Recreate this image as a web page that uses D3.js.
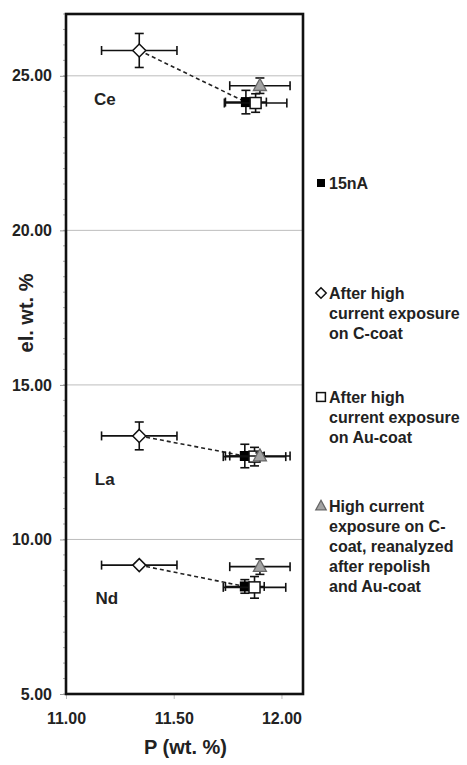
<!DOCTYPE html>
<html>
<head>
<meta charset="utf-8">
<script src="https://cdn.jsdelivr.net/npm/d3@7"></script>
<style>
  html, body { margin: 0; padding: 0; background: #fff; }
  svg { display: block; font-family: "Liberation Sans", Arial, sans-serif; font-weight: bold; }
</style>
</head>
<body>
<svg id="chart" width="467" height="765"></svg>
<script>
// Elements plotted (one group of points per element)
const elementLabels = ["Ce", "La", "Nd"];
const elementLabelP = [11.18, 11.18, 11.19];
const elementLabelEl = [24.25, 11.95, 8.08];

// 15nA measurements
const p15nA = [11.835, 11.83, 11.83];
const el15nA = [24.15, 12.70, 8.48];
const pErr15nA = [0.095, 0.09, 0.09];
const elErr15nA = [0.38, 0.38, 0.22];

// After high current exposure on C-coat
const pCcoat = [11.34, 11.34, 11.34];
const elCcoat = [25.82, 13.35, 9.17];
const pErrCcoat = [0.175, 0.175, 0.175];
const elErrCcoat = [0.55, 0.45, 0.06];

// After high current exposure on Au-coat
const pAucoat = [11.88, 11.875, 11.875];
const elAucoat = [24.12, 12.68, 8.45];
const pErrAucoat = [0.145, 0.145, 0.145];
const elErrAucoat = [0.30, 0.30, 0.35];

// High current exposure on C-coat, reanalyzed after repolish and Au-coat
const pRepolish = [11.90, 11.90, 11.90];
const elRepolish = [24.68, 12.70, 9.12];
const pErrRepolish = [0.14, 0.14, 0.14];
const elErrRepolish = [0.25, 0.10, 0.25];

// Axis ticks
const xTicks = [11.00, 11.50, 12.00];
const yTicks = [5.00, 10.00, 15.00, 20.00, 25.00];
const gridValues = [10.00, 15.00, 20.00, 25.00];

// Legend text lines
const legendLines = [
  ["15nA"],
  ["After high", "current exposure", "on C-coat"],
  ["After high", "current exposure", "on Au-coat"],
  ["High current", "exposure on C-", "coat, reanalyzed", "after repolish", "and Au-coat"]
];

const svg = d3.select("#chart");
const plot = { left: 66, right: 303, top: 14, bottom: 694 };
const font = "Liberation Sans, Arial, sans-serif";

const x = d3.scaleLinear().domain([11.0, 12.1]).range([plot.left, plot.right]);
const y = d3.scaleLinear().domain([5, 27]).range([plot.bottom, plot.top]);

// Horizontal gridlines
svg.append("g").selectAll("line").data(gridValues).join("line")
  .attr("x1", plot.left).attr("x2", plot.right)
  .attr("y1", d => y(d)).attr("y2", d => y(d))
  .attr("stroke", "#bdbdbd").attr("stroke-width", 1);

// Minor y ticks every 0.5
const minorY = d3.range(5, 27.01, 0.5);
svg.append("g").selectAll("line").data(minorY).join("line")
  .attr("x1", plot.left - 3).attr("x2", plot.left)
  .attr("y1", d => y(d)).attr("y2", d => y(d))
  .attr("stroke", "#aaa").attr("stroke-width", 1);

// Y axis
const yAxis = d3.axisLeft(y).tickValues(yTicks).tickFormat(d3.format(".2f"))
  .tickSize(6).tickPadding(8);
const gy = svg.append("g").attr("transform", `translate(${plot.left},0)`).call(yAxis);
gy.select(".domain").remove();
gy.selectAll(".tick line").attr("stroke", "#999");
gy.selectAll(".tick text").attr("font-size", 16).attr("font-weight", "bold")
  .attr("font-family", font).attr("fill", "#222");

// X axis
const xAxis = d3.axisBottom(x).tickValues(xTicks).tickFormat(d3.format(".2f"))
  .tickSize(5).tickPadding(14);
const gx = svg.append("g").attr("transform", `translate(0,${plot.bottom})`).call(xAxis);
gx.select(".domain").remove();
gx.selectAll(".tick line").attr("stroke", "#bbb");
gx.selectAll(".tick text").attr("font-size", 16).attr("font-weight", "bold")
  .attr("font-family", font).attr("fill", "#222");

// Axis titles
svg.append("text").attr("x", (plot.left + plot.right) / 2 + 1).attr("y", 754)
  .attr("text-anchor", "middle").attr("font-size", 20).attr("fill", "#222")
  .text("P (wt. %)");
svg.append("text")
  .attr("transform", "translate(33,313) rotate(-90)")
  .attr("text-anchor", "middle").attr("font-size", 20).attr("fill", "#222")
  .text("el. wt. %");

// Element labels
svg.append("g").selectAll("text").data(elementLabels).join("text")
  .attr("x", (d, i) => x(elementLabelP[i]))
  .attr("y", (d, i) => y(elementLabelEl[i]))
  .attr("text-anchor", "middle").attr("dominant-baseline", "central")
  .attr("font-size", 17).attr("fill", "#222")
  .text(d => d);

// Dashed connectors from C-coat points to 15nA points
svg.append("g").selectAll("line").data(elementLabels).join("line")
  .attr("x1", (d, i) => x(pCcoat[i])).attr("y1", (d, i) => y(elCcoat[i]))
  .attr("x2", (d, i) => x(p15nA[i])).attr("y2", (d, i) => y(el15nA[i]))
  .attr("stroke", "#222").attr("stroke-width", 1.6).attr("stroke-dasharray", "4,3");

function drawSeries(pv, ev, pe, ee, shape) {
  const g = svg.append("g");
  const cap = 4.5;
  pv.forEach((p, i) => {
    const cx = x(p), cy = y(ev[i]);
    const eg = g.append("g").attr("stroke", "#111").attr("stroke-width", 1.6).attr("fill", "none");
    // horizontal error bar
    eg.append("line").attr("x1", x(p - pe[i])).attr("x2", x(p + pe[i])).attr("y1", cy).attr("y2", cy);
    eg.append("line").attr("x1", x(p - pe[i])).attr("x2", x(p - pe[i])).attr("y1", cy - cap).attr("y2", cy + cap);
    eg.append("line").attr("x1", x(p + pe[i])).attr("x2", x(p + pe[i])).attr("y1", cy - cap).attr("y2", cy + cap);
    // vertical error bar
    eg.append("line").attr("x1", cx).attr("x2", cx).attr("y1", y(ev[i] - ee[i])).attr("y2", y(ev[i] + ee[i]));
    eg.append("line").attr("x1", cx - cap).attr("x2", cx + cap).attr("y1", y(ev[i] - ee[i])).attr("y2", y(ev[i] - ee[i]));
    eg.append("line").attr("x1", cx - cap).attr("x2", cx + cap).attr("y1", y(ev[i] + ee[i])).attr("y2", y(ev[i] + ee[i]));
    drawMarker(g, cx, cy, shape, 1);
  });
}

function drawMarker(g, cx, cy, shape, scale) {
  if (shape === "filledSquare") {
    const s = 10 * scale;
    g.append("rect").attr("x", cx - s / 2).attr("y", cy - s / 2).attr("width", s).attr("height", s)
      .attr("fill", "#000");
  } else if (shape === "openSquare") {
    const s = 11 * scale;
    g.append("rect").attr("x", cx - s / 2).attr("y", cy - s / 2).attr("width", s).attr("height", s)
      .attr("fill", "#fff").attr("stroke", "#111").attr("stroke-width", 1.5);
  } else if (shape === "diamond") {
    const r = 6.5 * scale;
    g.append("path").attr("d", `M${cx},${cy - r}L${cx + r},${cy}L${cx},${cy + r}L${cx - r},${cy}Z`)
      .attr("fill", "#fff").attr("stroke", "#111").attr("stroke-width", 1.5);
  } else if (shape === "triangle") {
    const h = 12 * scale, w = 13 * scale;
    g.append("path").attr("d", `M${cx},${cy - h * 0.6}L${cx + w / 2},${cy + h * 0.4}L${cx - w / 2},${cy + h * 0.4}Z`)
      .attr("fill", "#a3a3a3").attr("stroke", "#666").attr("stroke-width", 1.3);
  }
}

drawSeries(pCcoat, elCcoat, pErrCcoat, elErrCcoat, "diamond");
drawSeries(p15nA, el15nA, pErr15nA, elErr15nA, "filledSquare");
drawSeries(pAucoat, elAucoat, pErrAucoat, elErrAucoat, "openSquare");
drawSeries(pRepolish, elRepolish, pErrRepolish, elErrRepolish, "triangle");

// Plot frame
svg.append("rect").attr("x", plot.left).attr("y", plot.top)
  .attr("width", plot.right - plot.left).attr("height", plot.bottom - plot.top)
  .attr("fill", "none").attr("stroke", "#111").attr("stroke-width", 2.6);

// Legend
const legendShapes = ["filledSquare", "diamond", "openSquare", "triangle"];
const legendTop = [183, 293, 397, 506];
const lineGap = 20;
const lg = svg.append("g");
legendLines.forEach((lines, k) => {
  drawMarker(lg, 321, legendTop[k], legendShapes[k], 0.8);
  lines.forEach((t, j) => {
    lg.append("text").attr("x", 329).attr("y", legendTop[k] + j * lineGap)
      .attr("dominant-baseline", "central").attr("font-size", 16).attr("fill", "#222")
      .text(t);
  });
});
</script>
</body>
</html>
